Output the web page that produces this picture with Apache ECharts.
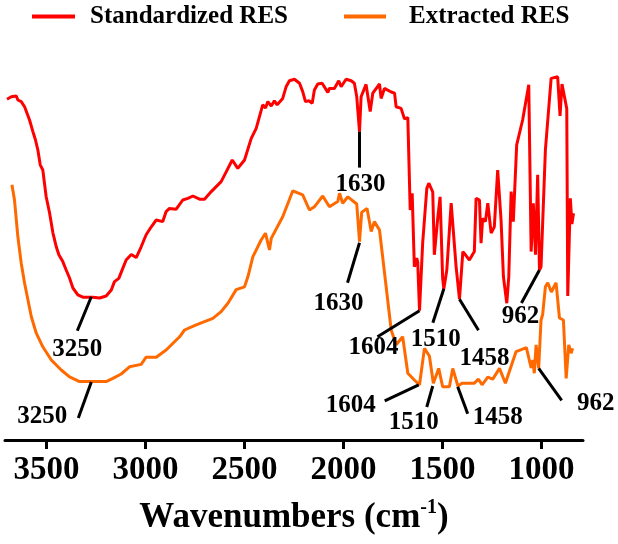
<!DOCTYPE html>
<html>
<head>
<meta charset="utf-8">
<script src="https://cdn.jsdelivr.net/npm/echarts@6/dist/echarts.min.js"></script>
<style>html,body{margin:0;padding:0;background:#fff;}#c{width:618px;height:544px;}</style>
</head>
<body>
<div id="c"></div>
<script>
// ---- data (wavenumber in cm-1, relative transmittance in a.u.) ----
const seriesNames = ['Standardized RES', 'Extracted RES'];
const tickValues = [1000, 1500, 2000, 2500, 3000, 3500];

const stdWave = [3700,3678,3670,3653,3645,3628,3611,3586,3569,3556,3544,3532,3519,3502,3485,3468,3451,3438,3418,3401,3384,3367,3342,3317,3266,3232,3199,3173,3157,3135,3115,3098,3072,3047,3022,2997,2971,2946,2913,2896,2879,2845,2812,2786,2761,2727,2702,2668,2618,2592,2562,2534,2500,2466,2441,2408,2394,2382,2365,2349,2335,2307,2290,2273,2248,2222,2206,2192,2175,2158,2147,2130,2108,2079,2071,2046,2024,2012,1987,1961,1945,1933,1919,1911,1886,1865,1852,1818,1810,1793,1759,1742,1734,1709,1692,1675,1663,1653,1642,1630,1625,1616,1600,1579,1569,1549,1541,1524,1512,1499,1493,1478,1456,1431,1414,1397,1384,1364,1339,1330,1313,1305,1297,1283,1271,1254,1238,1221,1204,1192,1175,1165,1153,1142,1125,1095,1064,1052,1041,1030,1019,1010,1002,980,951,918,906,896,872,867,854,846,838];
const stdT = [85.2,85.8,86.3,86,85,84.6,83.3,80,77.1,75,72.5,68.8,67.5,60.8,56.8,51.8,48.3,46.3,44.6,42.5,40.5,38,36.3,35.7,35.7,35.5,36,37.5,39.6,40.4,42.9,45,46.4,45.6,48.3,51.3,53.3,55,54.6,57.1,57.9,57.7,60,60.4,61,60.2,60.2,62.1,64.6,67.1,70,67.9,70,75.4,77.9,83.8,83,84.6,83.5,84.8,83.8,85.4,88.3,89.8,90.2,89.2,87.1,84.6,84.8,84.2,87.5,89,89.2,86.9,87.9,87.9,89.8,88.3,90.2,89.8,89.2,85.8,77.1,85.8,88.9,82.1,86.7,89,85.4,87.9,87,86.7,83.3,82.9,80.3,80.6,57.5,61.7,43.3,45.5,44.5,32.3,49.2,62.9,64.2,62,46.3,55.4,60.8,40.4,37.8,42.5,59.2,43.3,35.2,47.1,46.3,45,47.1,60.4,60,49.2,55.4,54.6,59.2,51.7,53.3,67.5,55,40.8,34.2,40.8,62.1,54.6,73.8,80,88.8,47.1,59.2,46.3,66.3,42.5,43.3,72.5,90.4,90.8,81,89,82.8,36,60.4,54,56.7];

const extWave = [3675,3662,3645,3628,3611,3594,3577,3552,3519,3476,3426,3384,3333,3249,3199,3165,3123,3081,3022,2997,2946,2896,2828,2803,2744,2660,2618,2584,2542,2500,2483,2458,2416,2394,2374,2365,2307,2256,2206,2172,2147,2105,2071,2029,2020,2004,1978,1933,1919,1908,1881,1860,1844,1818,1759,1734,1701,1675,1642,1616,1591,1566,1546,1519,1499,1465,1448,1422,1401,1339,1318,1300,1271,1246,1212,1182,1128,1076,1052,1044,1036,1027,1014,1002,994,980,968,950,926,909,889,875,862,850,842];
const extT = [63.8,60,50.8,44.2,39.2,35,30.8,26.7,23.3,20,17.5,15.8,14.6,14.6,14.6,15.4,16.5,18.3,18.9,20.7,20.7,22.5,25.8,27.5,28.8,30.4,32.1,34.2,37.6,38.3,40.8,45.8,50,51.7,47.5,50.4,55.8,62.3,61.3,57.5,58.3,61,58.3,59.6,61.7,59.2,60.8,59,49.6,56.9,57.9,52.1,54.6,52.5,27.5,23.8,25.8,16.7,15,13.8,22.9,21,14.2,17.9,13.3,13.3,17.9,13.5,14.2,14.2,15.2,13.8,15.7,15.2,17.9,14.2,22.1,23.1,18,20,16.7,23.8,17.9,30,31.3,38.3,39.3,37,39.3,30.5,30,15.4,23.8,21.7,22.9];

// annotated peaks: label, wavenumber, transmittance of the anchor
const annLabels = ['3250','1630','1604','1510','1458','962','3250','1630','1604','1510','1458','962'];
const annWave   = [3274,1919,1616,1493,1414,1010,3274,1919,1620,1549,1423,1014];
const annT      = [35.8,77.1,32.3,37.8,35.2,42.5,14.5,49.3,13.8,13.5,13.3,17.9];

// ---- layout (pixel offsets from anchor: leader end dx,dy ; label centre dx,dy) ----
const annLayout = [
  [-14,34,-14,53],[0,36,1,53],[-42,26,-46,37],[-11,34,-8,51],[19,31,25,59],[-18,33,-19,47],
  [-13,36,-49,35],[-12,40,-21,61],[-34,16,-68,21],[-6,21,-19,37],[10,27,40,31],[23,32,57,35]
];

const FONT = '"Liberation Serif", "Times New Roman", serif';
const zip = (a, b) => a.map((v, i) => [v, b[i]]);
const legendText = (pad) => ({fontFamily: FONT, fontSize: 25, fontWeight: 'bold', color: '#000', padding: [0, 0, 0, pad]});

const chart = echarts.init(document.getElementById('c'), null, {renderer: 'canvas'});
chart.setOption({
  animation: false,
  backgroundColor: '#fff',
  grid: {left: 5, right: 35, top: 40, bottom: 104, containLabel: false},
  legend: [
    {data: [seriesNames[0]], top: 4, left: 32, padding: 0, icon: 'rect', itemWidth: 43, itemHeight: 4, textStyle: legendText(10)},
    {data: [seriesNames[1]], top: 4, left: 344, padding: 0, icon: 'rect', itemWidth: 42, itemHeight: 4, textStyle: legendText(18)}
  ],
  xAxis: {
    type: 'value', min: 790, max: 3710, inverse: true,
    splitLine: {show: false},
    axisLine: {lineStyle: {color: '#000', width: 3}},
    axisTick: {customValues: tickValues, length: 9, lineStyle: {color: '#000', width: 3}},
    axisLabel: {customValues: tickValues, margin: 14, fontFamily: FONT, fontSize: 33, fontWeight: 'bold', color: '#000',
      formatter: function (v) { return String(v); }},
    name: '{a|Wavenumbers (cm}{s|-1}{a|)}',
    nameLocation: 'middle', nameGap: 58,
    nameTextStyle: {
      rich: {
        a: {fontFamily: FONT, fontSize: 35, fontWeight: 'bold', color: '#000', lineHeight: 40},
        s: {fontFamily: FONT, fontSize: 20, fontWeight: 'bold', color: '#000', verticalAlign: 'top', lineHeight: 40}
      }
    }
  },
  yAxis: {type: 'value', min: 0, max: 100, show: false},
  series: [
    {name: seriesNames[0], type: 'line', data: zip(stdWave, stdT), showSymbol: false, color: '#ff0000', lineStyle: {width: 3, color: '#ff0000'}},
    {name: seriesNames[1], type: 'line', data: zip(extWave, extT), showSymbol: false, color: '#ff6a00', lineStyle: {width: 3, color: '#ff6a00'}},
    {
      type: 'custom', clip: false, z: 5,
      data: annWave.map((w, i) => [w, annT[i]]),
      renderItem: function (params, api) {
        const i = params.dataIndex;
        const p = api.coord([api.value(0), api.value(1)]);
        const o = annLayout[i];
        return {
          type: 'group',
          children: [
            {type: 'line', shape: {x1: p[0], y1: p[1], x2: p[0] + o[0], y2: p[1] + o[1]}, style: {stroke: '#000', lineWidth: 3}},
            {type: 'text', x: p[0] + o[2], y: p[1] + o[3], style: {text: annLabels[i], fill: '#000', font: 'bold 25px ' + FONT, align: 'center', verticalAlign: 'middle'}}
          ]
        };
      }
    }
  ]
});
</script>
</body>
</html>
